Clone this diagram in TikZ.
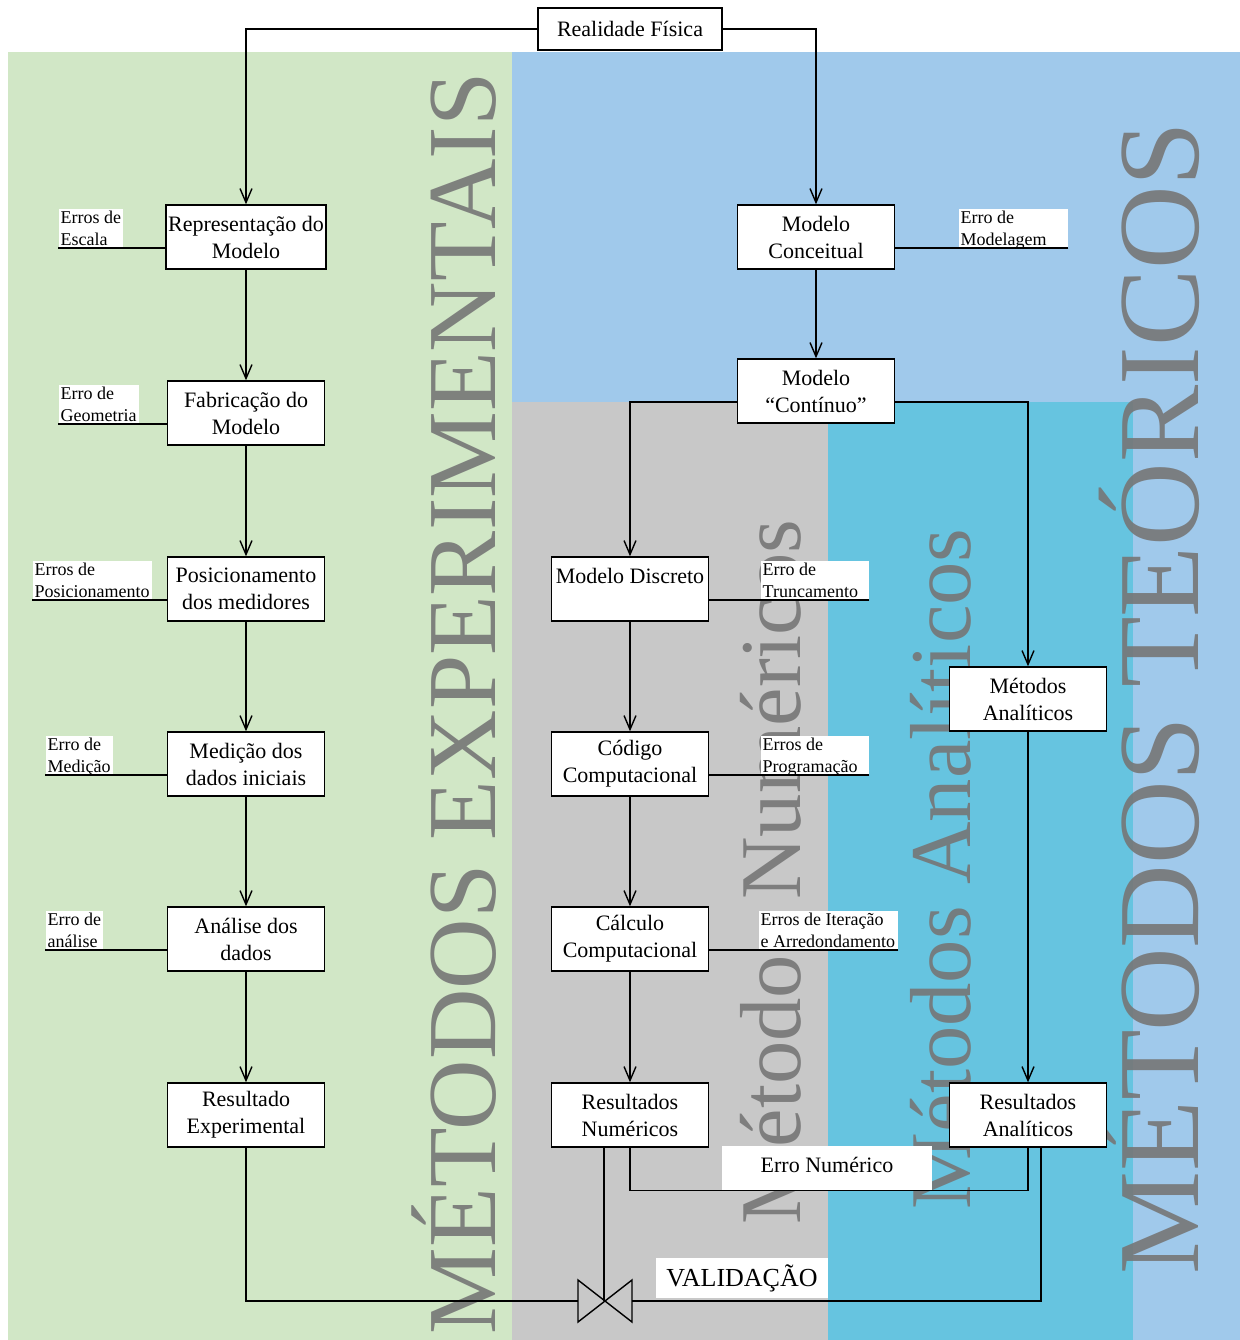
\documentclass[tikz,border=0pt]{standalone}
\usepackage{fontspec}
\setmainfont{Liberation Serif}
\usepackage{tikz}
\usetikzlibrary{arrows.meta}

\definecolor{expgreen}{RGB}{209,231,198}
\definecolor{teoblue}{RGB}{160,201,235}
\definecolor{numgray}{RGB}{200,200,200}
\definecolor{ancyan}{RGB}{102,196,224}
\definecolor{markgray}{RGB}{118,118,118}

\begin{document}
\begin{tikzpicture}
	[x=0.5pt,y=-0.5pt,line width=0.7pt,
	blk/.style={draw=black,fill=white,minimum width=78.5pt,minimum height=32pt,inner sep=1pt,align=center,font=\fontsize{11}{13.5}\selectfont},
	errlbl/.style={fill=white,anchor=south west,inner sep=1pt,text depth=0pt,align=left,font=\fontsize{9}{11}\selectfont},
	wmark/.style={rotate=90,anchor=base west,inner sep=0pt,text=markgray,text opacity=0.9},
	flow/.style={-{Straight Barb[length=7pt,width=6pt]}}]
	\useasboundingbox (0,0) rectangle (1240,1340);

	% regioes
	\fill[white] (0,0) rectangle (1240,1340);
	\fill[expgreen] (8,52) rectangle (512,1340);
	\fill[teoblue] (512,52) rectangle (1240,1340);
	\fill[numgray] (512,402) rectangle (828,1340);
	\fill[ancyan] (828,402) rectangle (1133,1340);

	% textos de fundo
	\node[wmark,font=\fontsize{48.8}{48.8}\selectfont] (mexp) at (495,1335) {MÉTODOS EXPERIMENTAIS};
	\node[wmark,font=\fontsize{43.3}{43.3}\selectfont] (mnum) at (800,1225) {Métodos Numéricos};
	\node[wmark,font=\fontsize{43.3}{43.3}\selectfont] (man) at (970,1210) {Métodos Analíticos};
	\node[wmark,font=\fontsize{57.9}{57.9}\selectfont] (mteo) at (1198,1275) {MÉTODOS TEÓRICOS};

	% blocos
	\node[blk,minimum width=92pt,minimum height=21pt] (real) at (630,29) {Realidade Física};

	\node[blk] (rep) at (246,237) {Representação do\\Modelo};
	\node[blk] (fab) at (246,413) {Fabricação do\\Modelo};
	\node[blk] (pos) at (246,589) {Posicionamento\\dos medidores};
	\node[blk] (med) at (246,764) {Medição dos\\dados iniciais};
	\node[blk] (ana) at (246,939) {Análise dos\\dados};
	\node[blk] (resexp) at (246,1115) {Resultado\\Experimental};

	\node[blk] (conc) at (816,237) {Modelo\\Conceitual};
	\node[blk] (cont) at (816,391) {Modelo\\“Contínuo”};

	\node[blk] (disc) at (630,589) {Modelo Discreto\\\mbox{}};
	\node[blk] (cod) at (630,764) {Código\\Computacional};
	\node[blk] (calc) at (630,939) {Cálculo\\Computacional};
	\node[blk] (resnum) at (630,1115) {Resultados\\Numéricos};

	\node[blk] (metan) at (1028,699) {Métodos\\Analíticos};
	\node[blk] (resan) at (1028,1115) {Resultados\\Analíticos};

	% erros
	\node[errlbl] (e1) at (58,248) {Erros de\\Escala};
	\node[errlbl] (e2) at (58,424) {Erro de\\Geometria};
	\node[errlbl] (e3) at (32,600) {Erros de\\Posicionamento};
	\node[errlbl] (e4) at (45,775) {Erro de\\Medição};
	\node[errlbl] (e5) at (45,950) {Erro de\\análise};
	\node[errlbl] (e6) at (958,248) {\makebox[52.5pt][l]{Erro de}\\Modelagem};
	\node[errlbl] (e7) at (760,600) {\makebox[52pt][l]{Erro de}\\Truncamento};
	\node[errlbl] (e8) at (760,775) {\makebox[52pt][l]{Erros de}\\Programação};
	\node[errlbl] (e9) at (758,950) {\makebox[67.5pt][l]{Erros de Iteração}\\e Arredondamento};

	\foreach \lbl/\tgt in {e1/rep,e2/fab,e3/pos,e4/med,e5/ana}
	\draw (\lbl.south west) -- (\lbl.south west -| \tgt.west);
	\foreach \lbl/\tgt in {e6/conc,e7/disc,e8/cod,e9/calc}
	\draw (\lbl.south east) -- (\lbl.south east -| \tgt.east);

	% fluxo
	\draw[flow] (real.west) -| (rep.north);
	\draw[flow] (real.east) -| (conc.north);
	\draw[flow] ([yshift=-5.5pt]cont.west) -| (disc.north);
	\draw[flow] ([yshift=-5.5pt]cont.east) -| (metan.north);
	\foreach \from/\to in {rep/fab,fab/pos,pos/med,med/ana,ana/resexp,conc/cont,disc/cod,cod/calc,calc/resnum,metan/resan}
	\draw[flow] (\from) -- (\to);

	% erro numerico
	\node[fill=white,minimum width=105pt,minimum height=22pt,inner sep=1pt,text depth=3pt,font=\fontsize{11}{13.5}\selectfont] (errnum) at (827,1168) {Erro Numérico};
	\draw (resnum.south) |- (errnum.south) -| (resan.south);

	% validacao
	\coordinate (valid) at (604,1301);
	\coordinate (vl) at (578,1301);
	\coordinate (vr) at (632,1301);
	\draw (578,1280) -- (632,1322) -- (632,1280) -- (578,1322) -- cycle;
	\draw (resexp.south) |- (vl);
	\draw (resnum.south -| valid) -- (valid);
	\draw ([xshift=6.5pt]resan.south) |- (vr);
	\node[fill=white,minimum width=86pt,minimum height=20pt,inner sep=1pt,font=\fontsize{13}{15}\selectfont] (valtxt) at (742,1278) {VALIDAÇÃO};
\end{tikzpicture}
\end{document}
